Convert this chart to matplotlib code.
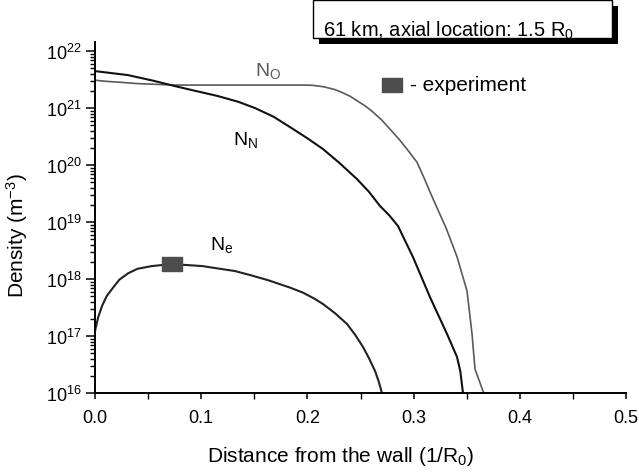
import numpy as np
import matplotlib
matplotlib.use("Agg")
import matplotlib.pyplot as plt
from matplotlib.ticker import MultipleLocator, LogLocator, NullFormatter, FormatStrFormatter
from matplotlib.patches import Rectangle

plt.rcParams['font.family'] = ['Liberation Sans', 'DejaVu Sans']
plt.rcParams['mathtext.fontset'] = 'custom'
plt.rcParams['mathtext.rm'] = 'Liberation Sans'
plt.rcParams['mathtext.it'] = 'Liberation Sans:italic'
plt.rcParams['mathtext.default'] = 'regular'

# Oxygen atom density, log10(m^-3) vs distance from the wall (1/R0)
o_dist = [0.0, 0.010, 0.0217, 0.040, 0.0753, 0.1365, 0.1977, 0.205, 0.215, 0.225,
          0.2307, 0.240, 0.2467, 0.255, 0.2618, 0.270, 0.2778, 0.286, 0.2938, 0.3032,
          0.3095, 0.3154, 0.323, 0.3305, 0.3409, 0.3503, 0.3550, 0.3578, 0.3660]
o_logn = [21.49, 21.47, 21.456, 21.43, 21.404, 21.404, 21.404, 21.40, 21.375, 21.33,
          21.29, 21.21, 21.13, 21.03, 20.93, 20.79, 20.63, 20.46, 20.28, 20.05,
          19.79, 19.53, 19.21, 18.90, 18.39, 17.79, 17.04, 16.42, 16.0]

# Nitrogen atom density
n_dist = [0.0, 0.0311, 0.055, 0.0753, 0.095, 0.1158, 0.135, 0.1507, 0.168, 0.1836,
          0.200, 0.2147, 0.230, 0.2467, 0.258, 0.2684, 0.277, 0.2853, 0.2994, 0.3154,
          0.3315, 0.3409, 0.344, 0.3465]
n_logn = [21.649, 21.579, 21.48, 21.386, 21.30, 21.211, 21.11, 21.0, 20.85, 20.667,
          20.47, 20.281, 20.04, 19.754, 19.53, 19.281, 19.12, 18.93, 18.386, 17.684,
          17.035, 16.632, 16.38, 16.0]

# Electron density
e_dist = [0.0, 0.003, 0.0066, 0.011, 0.016, 0.023, 0.0311, 0.040, 0.0537, 0.0725,
          0.1008, 0.1318, 0.147, 0.1629, 0.1836, 0.196, 0.2072, 0.2147, 0.226, 0.2373,
          0.245, 0.2524, 0.258, 0.2637, 0.267, 0.2702]
e_logn = [17.088, 17.33, 17.526, 17.70, 17.825, 17.99, 18.10, 18.18, 18.228, 18.263,
          18.228, 18.140, 18.065, 17.98, 17.85, 17.76, 17.649, 17.561, 17.40, 17.211,
          17.02, 16.807, 16.61, 16.386, 16.21, 16.0]

# Measured electron density
exp_dist = [0.0725]
exp_dens = [1.83e18]

x_ticks = [0.0, 0.1, 0.2, 0.3, 0.4, 0.5]

fig = plt.figure(figsize=(6.39, 4.77), dpi=100)
W, H = 639, 477
ax = fig.add_axes([95 / W, 1 - 394 / H, (626 - 95) / W, (394 - 43) / H])

ax.plot(o_dist, 10 ** np.array(o_logn), color='#5a5a5a', lw=1.2, solid_joinstyle='round')
ax.plot(n_dist, 10 ** np.array(n_logn), color='#111111', lw=1.5, solid_joinstyle='round')
ax.plot(e_dist, 10 ** np.array(e_logn), color='#222222', lw=1.5, solid_joinstyle='round')

rect_marker = [(-1, -0.68), (1, -0.68), (1, 0.68), (-1, 0.68), (-1, -0.68)]
ax.plot(exp_dist, exp_dens, linestyle='none', marker=rect_marker, markersize=14.5,
        markerfacecolor='#4d4d4d', markeredgecolor='#4d4d4d', zorder=5)

# legend entry for the measurement
ax.plot([0.280], [10 ** 21.41], linestyle='none', marker=rect_marker, markersize=15,
        markerfacecolor='#4d4d4d', markeredgecolor='#4d4d4d', clip_on=False)
ax.text(0.297, 10 ** 21.41, '- experiment', fontsize=15, va='center', ha='left')

# curve labels
ax.text(0.1507, 10 ** 21.58, r'N$_O$', fontsize=14, color='#5a5a5a', va='baseline')
ax.text(0.130, 10 ** 20.368, r'N$_N$', fontsize=14, color='black', va='baseline')
ax.text(0.1083, 10 ** 18.526, r'N$_e$', fontsize=14, color='black', va='baseline')

ax.set_yscale('log')
ax.set_xlim(0, 0.5)
ax.set_ylim(1e16, 10 ** 22.16)
ax.set_xticks(x_ticks)
ax.xaxis.set_major_formatter(FormatStrFormatter('%.1f'))
ax.xaxis.set_minor_locator(MultipleLocator(0.05))
ax.yaxis.set_major_locator(LogLocator(base=10, numticks=20))
ax.yaxis.set_minor_locator(LogLocator(base=10, subs=np.arange(2, 10), numticks=20))
ax.yaxis.set_minor_formatter(NullFormatter())

for side in ('top', 'right'):
    ax.spines[side].set_visible(False)
for side in ('left', 'bottom'):
    ax.spines[side].set_linewidth(1.4)

ax.tick_params(axis='y', which='major', length=6.5, width=1.1, labelsize=13, pad=3)
ax.tick_params(axis='y', which='minor', length=3.6, width=1.0)
ax.tick_params(axis='x', which='major', length=4.3, width=1.1, labelsize=13, pad=7)
ax.tick_params(axis='x', which='minor', length=4.3, width=1.0)

ax.set_xlabel(r'Distance from the wall (1/R$_0$)', fontsize=15)
ax.set_ylabel(r'Density (m$^{-3}$)', fontsize=15)
ax.xaxis.set_label_coords(0.463, -0.145)
ax.yaxis.set_label_coords(-0.122, 0.45)

# title box with drop shadow (pixel geometry in figure fraction)
def fx(px):
    return px / W

def fy(py):
    return 1 - py / H

shadow = Rectangle((fx(319), fy(45)), fx(618) - fx(319), fy(7) - fy(45),
                   transform=fig.transFigure, facecolor='black', edgecolor='black', lw=0)
box = Rectangle((fx(313), fy(39)), fx(612) - fx(313), fy(1) - fy(39),
                transform=fig.transFigure, facecolor='white', edgecolor='black', lw=1.0)
fig.patches.extend([shadow, box])
fig.text(fx(323), fy(37), r'61 km, axial location: 1.5 R$_0$', fontsize=14.5,
         va='baseline', ha='left')

fig.savefig('out.png', dpi=100)
